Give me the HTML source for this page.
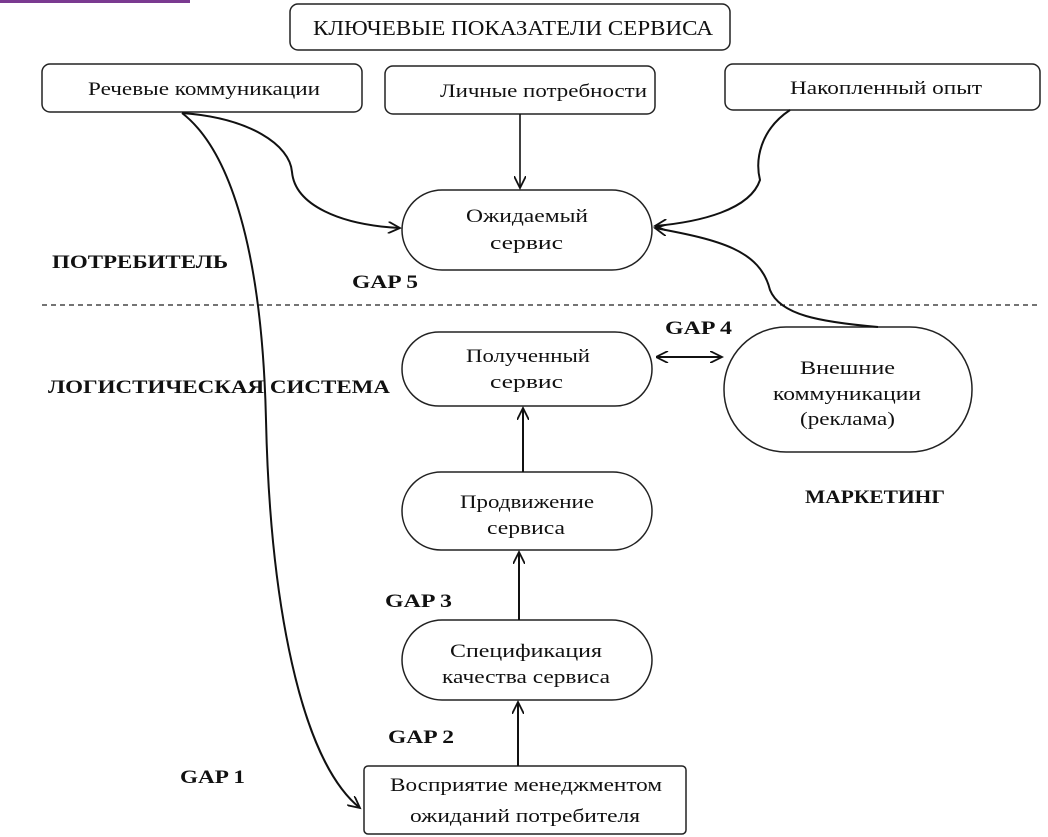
<!DOCTYPE html>
<html><head><meta charset="utf-8"><style>
html,body{margin:0;padding:0;background:#fff;}
svg{display:block;}
text{font-family:"Liberation Serif",serif;fill:#111;}
.b{font-weight:bold;font-size:19px;}
.n{font-size:19px;}
</style></head><body>
<svg width="1048" height="837" viewBox="0 0 1048 837" xmlns="http://www.w3.org/2000/svg">
<defs>
<marker id="a" markerWidth="14" markerHeight="12" refX="12" refY="6" orient="auto" markerUnits="userSpaceOnUse">
<path d="M0,0 L12,6 L0,12" fill="none" stroke="#111" stroke-width="1.8"/>
</marker>
<marker id="s" markerWidth="14" markerHeight="12" refX="0" refY="6" orient="auto" markerUnits="userSpaceOnUse">
<path d="M12,0 L0,6 L12,12" fill="none" stroke="#111" stroke-width="1.8"/>
</marker>
</defs>
<rect x="0" y="0" width="190" height="3" fill="#7a3a90"/>
<g fill="#fff" stroke="#222" stroke-width="1.5">
<rect x="290" y="4" width="440" height="46" rx="8"/>
<rect x="42" y="64" width="320" height="48" rx="8"/>
<rect x="385" y="66" width="270" height="48" rx="8"/>
<rect x="725" y="64" width="315" height="46" rx="8"/>
<rect x="402" y="190" width="250" height="80" rx="40"/>
<rect x="402" y="332" width="250" height="74" rx="37"/>
<rect x="724" y="327" width="248" height="125" rx="62"/>
<rect x="402" y="472" width="250" height="78" rx="39"/>
<rect x="402" y="620" width="250" height="80" rx="40"/>
<rect x="364" y="766" width="322" height="68" rx="4"/>
</g>
<line x1="42" y1="305" x2="1040" y2="305" stroke="#222" stroke-width="1.3" stroke-dasharray="5,4"/>
<g fill="none" stroke="#111" stroke-width="2">
<line x1="520" y1="114" x2="520" y2="188" marker-end="url(#a)" stroke-width="1.6"/>
<path d="M182,113 C250,118 290,145 292,172 C295,205 340,225 400,228" marker-end="url(#a)"/>
<path d="M182,113 C230,150 262,250 266,420 C270,600 300,760 360,808" marker-end="url(#a)"/>
<path d="M790,110 C760,130 755,160 760,180 C750,210 700,222 655,226" marker-end="url(#a)"/>
<path d="M878,327 C820,322 780,315 770,290 C760,250 720,240 655,228" marker-end="url(#a)"/>
<line x1="656" y1="357" x2="722" y2="357" marker-start="url(#s)" marker-end="url(#a)"/>
<line x1="523" y1="472" x2="523" y2="408" marker-end="url(#a)"/>
<line x1="519" y1="620" x2="519" y2="552" marker-end="url(#a)"/>
<line x1="518" y1="766" x2="518" y2="702" marker-end="url(#a)"/>
</g>
<g class="n" lengthAdjust="spacingAndGlyphs">
<text x="313" y="35" font-size="21" textLength="400" lengthAdjust="spacingAndGlyphs">КЛЮЧЕВЫЕ ПОКАЗАТЕЛИ СЕРВИСА</text>
<text x="88" y="95" textLength="232" lengthAdjust="spacingAndGlyphs">Речевые коммуникации</text>
<text x="440" y="97" textLength="207" lengthAdjust="spacingAndGlyphs">Личные потребности</text>
<text x="790" y="94" textLength="192" lengthAdjust="spacingAndGlyphs">Накопленный опыт</text>
<text x="466" y="222" textLength="122" lengthAdjust="spacingAndGlyphs">Ожидаемый</text>
<text x="490" y="249" textLength="73" lengthAdjust="spacingAndGlyphs">сервис</text>
<text x="466" y="362" textLength="124" lengthAdjust="spacingAndGlyphs">Полученный</text>
<text x="490" y="388" textLength="73" lengthAdjust="spacingAndGlyphs">сервис</text>
<text x="800" y="374" textLength="95" lengthAdjust="spacingAndGlyphs">Внешние</text>
<text x="773" y="400" textLength="148" lengthAdjust="spacingAndGlyphs">коммуникации</text>
<text x="800" y="425" textLength="95" lengthAdjust="spacingAndGlyphs">(реклама)</text>
<text x="460" y="508" textLength="134" lengthAdjust="spacingAndGlyphs">Продвижение</text>
<text x="487" y="534" textLength="78" lengthAdjust="spacingAndGlyphs">сервиса</text>
<text x="450" y="657" textLength="152" lengthAdjust="spacingAndGlyphs">Спецификация</text>
<text x="442" y="683" textLength="168" lengthAdjust="spacingAndGlyphs">качества сервиса</text>
<text x="390" y="791" textLength="272" lengthAdjust="spacingAndGlyphs">Восприятие менеджментом</text>
<text x="410" y="822" textLength="230" lengthAdjust="spacingAndGlyphs">ожиданий потребителя</text>
</g>
<g class="b">
<text x="52" y="268" textLength="176" lengthAdjust="spacingAndGlyphs">ПОТРЕБИТЕЛЬ</text>
<text x="352" y="288" textLength="66" lengthAdjust="spacingAndGlyphs">GAP 5</text>
<text x="48" y="393" textLength="342" lengthAdjust="spacingAndGlyphs">ЛОГИСТИЧЕСКАЯ СИСТЕМА</text>
<text x="665" y="334" textLength="67" lengthAdjust="spacingAndGlyphs">GAP 4</text>
<text x="805" y="503" textLength="140" lengthAdjust="spacingAndGlyphs">МАРКЕТИНГ</text>
<text x="385" y="607" textLength="67" lengthAdjust="spacingAndGlyphs">GAP 3</text>
<text x="388" y="743" textLength="66" lengthAdjust="spacingAndGlyphs">GAP 2</text>
<text x="180" y="783" textLength="65" lengthAdjust="spacingAndGlyphs">GAP 1</text>
</g>
</svg>
</body></html>
